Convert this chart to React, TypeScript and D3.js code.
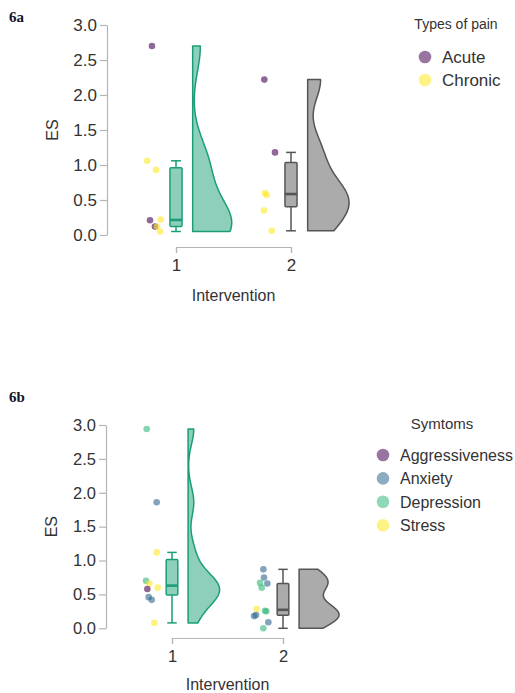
import React, { useEffect, useRef } from 'react';
import * as d3 from 'd3';

const groups = [1, 2];
const yTicks = [0, 0.5, 1, 1.5, 2, 2.5, 3];

// 6a – types of pain
const painTypes = ['Acute', 'Chronic'];
const painColors = ['#440154', '#FDE725'];
const pain1Values = [2.70, 1.06, 0.93, 0.21, 0.22, 0.12, 0.12, 0.05];
const pain1Types = ['Acute', 'Chronic', 'Chronic', 'Acute', 'Chronic', 'Acute', 'Chronic', 'Chronic'];
const pain1Jitter = [-0.209, -0.250, -0.174, -0.226, -0.133, -0.183, -0.165, -0.139];
const pain2Values = [2.22, 1.18, 0.60, 0.57, 0.35, 0.06];
const pain2Types = ['Acute', 'Acute', 'Chronic', 'Chronic', 'Chronic', 'Chronic'];
const pain2Jitter = [-0.232, -0.139, -0.226, -0.211, -0.235, -0.168];

// 6b – symptoms
const symptoms = ['Aggressiveness', 'Anxiety', 'Depression', 'Stress'];
const symptomColors = ['#440154', '#31688E', '#35B779', '#FDE725'];
const sym1Values = [2.94, 1.86, 1.12, 0.70, 0.66, 0.58, 0.60, 0.46, 0.42, 0.08];
const sym1Types = ['Depression', 'Anxiety', 'Stress', 'Depression', 'Stress', 'Aggressiveness', 'Stress', 'Anxiety', 'Anxiety', 'Stress'];
const sym1Jitter = [-0.228, -0.138, -0.138, -0.234, -0.204, -0.222, -0.129, -0.210, -0.183, -0.159];
const sym2Values = [0.87, 0.75, 0.66, 0.67, 0.60, 0.285, 0.26, 0.25, 0.195, 0.18, 0.09, 0.0];
const sym2Types = ['Anxiety', 'Anxiety', 'Anxiety', 'Depression', 'Depression', 'Stress', 'Depression', 'Depression', 'Anxiety', 'Anxiety', 'Anxiety', 'Depression'];
const sym2Jitter = [-0.177, -0.171, -0.141, -0.207, -0.192, -0.237, -0.162, -0.150, -0.243, -0.261, -0.132, -0.177];

const groupStroke = ['#1b9e77', '#555555'];
const groupFill = ['#8dcfba', '#ababab'];

const FONT = '"Liberation Sans", Arial, Helvetica, sans-serif';

// gaussian kde on the data range, bandwidth like R's bw.nrd0
function kde(values: number[], n = 200) {
  const s = values.slice().sort(d3.ascending);
  const sd = d3.deviation(s) || 0;
  const iqr = (d3.quantile(s, 0.75) as number) - (d3.quantile(s, 0.25) as number);
  const bw = 0.9 * Math.min(sd, iqr / 1.34) * Math.pow(s.length, -0.2);
  const [lo, hi] = d3.extent(s) as [number, number];
  return d3.range(n + 1).map(i => {
    const t = lo + ((hi - lo) * i) / n;
    const k = d3.mean(s, v => Math.exp(-0.5 * ((t - v) / bw) ** 2)) as number;
    return [t, k / (bw * Math.sqrt(2 * Math.PI))];
  });
}

function boxStats(values: number[]) {
  const s = values.slice().sort(d3.ascending);
  const q1 = d3.quantile(s, 0.25) as number;
  const med = d3.quantile(s, 0.5) as number;
  const q3 = d3.quantile(s, 0.75) as number;
  const iqr = q3 - q1;
  const lo = d3.min(s.filter(v => v >= q1 - 1.5 * iqr)) as number;
  const hi = d3.max(s.filter(v => v <= q3 + 1.5 * iqr)) as number;
  return { q1, med, q3, lo, hi };
}

function drawPanel(svg, p) {
  const g = svg.append('g');
  const x = d3.scaleLinear().domain([1, 2]).range(p.xRange);
  const y = d3.scaleLinear().domain([0, 3]).range(p.yRange);
  const color = d3.scaleOrdinal<string, string>().domain(p.cats).range(p.colors);

  // panel label
  g.append('text').attr('x', 9).attr('y', p.labelY).text(p.label)
    .attr('font-family', '"Liberation Serif", "Times New Roman", serif')
    .attr('font-weight', 'bold').attr('font-size', 15).attr('fill', '#14142a');

  // y axis
  const ya = g.append('g').attr('transform', `translate(${p.yAxisX},0)`)
    .call(d3.axisLeft(y).tickValues(yTicks).tickFormat(d3.format('.1f')).tickSize(7).tickSizeOuter(0).tickPadding(3));
  // x axis bracket
  const xa = g.append('g').attr('transform', `translate(0,${p.xAxisY})`)
    .call(d3.axisBottom(x).tickValues(groups).tickFormat(d3.format('d')).tickSize(6).tickSizeOuter(6).tickPadding(6));
  [ya, xa].forEach(a => {
    a.select('.domain').attr('stroke', '#b5b5b5').attr('stroke-width', 1.2);
    a.selectAll('.tick line').attr('stroke', '#b5b5b5').attr('stroke-width', 1.2);
    a.selectAll('text').attr('font-family', FONT).attr('font-size', p.tickSize).attr('fill', '#333');
  });

  g.append('text').attr('x', (x(1) + x(2)) / 2).attr('y', p.xTitleY).attr('text-anchor', 'middle')
    .attr('font-family', FONT).attr('font-size', 16).attr('fill', '#333').text('Intervention');
  g.append('text').attr('transform', `translate(${p.yTitleX},${(y(0) + y(3)) / 2}) rotate(-90)`)
    .attr('text-anchor', 'middle').attr('dy', '0.35em')
    .attr('font-family', FONT).attr('font-size', 16).attr('fill', '#333').text('ES');

  // shared width scale for violins (equal area)
  const dens = p.series.map(s => kde(s.values));
  const maxD = d3.max(dens.flat(), d => d[1]) as number;
  const w = d3.scaleLinear().domain([0, maxD]).range([0, 0.36]);

  p.series.forEach((s, i) => {
    const gx = groups[i];
    // jittered points
    g.append('g').selectAll('circle').data(s.values).join('circle')
      .attr('cx', (_, j) => x(gx + s.jitter[j]))
      .attr('cy', v => y(v))
      .attr('r', 3.3)
      .attr('fill', (_, j) => color(s.types[j]))
      .attr('fill-opacity', 0.6);

    // box
    const b = boxStats(s.values);
    const bw = 0.105, cw = 0.085;
    const bg = g.append('g').attr('stroke', groupStroke[i]).attr('stroke-width', 1.5);
    bg.append('line').attr('x1', x(gx)).attr('x2', x(gx)).attr('y1', y(b.q3)).attr('y2', y(b.hi));
    bg.append('line').attr('x1', x(gx)).attr('x2', x(gx)).attr('y1', y(b.q1)).attr('y2', y(b.lo));
    [b.hi, b.lo].forEach(v => bg.append('line')
      .attr('x1', x(gx - cw / 2)).attr('x2', x(gx + cw / 2)).attr('y1', y(v)).attr('y2', y(v)));
    bg.append('rect').attr('x', x(gx - bw / 2)).attr('width', x(gx + bw / 2) - x(gx - bw / 2))
      .attr('y', y(b.q3)).attr('height', y(b.q1) - y(b.q3))
      .attr('fill', groupFill[i]).attr('rx', 1);
    bg.append('line').attr('x1', x(gx - bw / 2)).attr('x2', x(gx + bw / 2))
      .attr('y1', y(b.med)).attr('y2', y(b.med)).attr('stroke-width', 2.6);

    // half violin
    const off = 0.145;
    const area = d3.area<number[]>()
      .y(d => y(d[0]))
      .x0(() => x(gx + off))
      .x1(d => x(gx + off + w(d[1])))
      .curve(d3.curveBasis);
    g.append('path').attr('d', area(dens[i]))
      .attr('fill', groupFill[i]).attr('stroke', groupStroke[i])
      .attr('stroke-width', 1.5).attr('stroke-linejoin', 'round');
  });

  // legend
  const lg = g.append('g');
  lg.append('text').attr('x', p.legend.titleX).attr('y', p.legend.titleY).attr('text-anchor', 'middle')
    .attr('font-family', FONT).attr('font-size', p.legend.titleSize).attr('fill', '#333').text(p.legendTitle);
  p.cats.forEach((c, k) => {
    const cy = p.legend.y0 + k * p.legend.step;
    lg.append('circle').attr('cx', p.legend.cx).attr('cy', cy).attr('r', 6.3)
      .attr('fill', color(c)).attr('fill-opacity', 0.55);
    lg.append('text').attr('x', p.legend.cx + 17).attr('y', cy).attr('dy', '0.36em')
      .attr('font-family', FONT).attr('font-size', p.legend.size).attr('fill', '#333').text(c);
  });
}

export default function App() {
  const svgRef = useRef<SVGSVGElement>(null);

  useEffect(() => {
    const svg = d3.select(svgRef.current);
    svg.selectAll('*').remove();

    drawPanel(svg, {
      label: '6a', labelY: 22,
      xRange: [176, 291], yRange: [235, 25],
      yAxisX: 107, xAxisY: 247, xTitleY: 301, yTitleX: 52, tickSize: 17,
      cats: painTypes, colors: painColors, legendTitle: 'Types of pain',
      legend: { titleX: 456, titleY: 29, titleSize: 14, cx: 425, y0: 57, step: 23, size: 17 },
      series: [
        { values: pain1Values, types: pain1Types, jitter: pain1Jitter },
        { values: pain2Values, types: pain2Types, jitter: pain2Jitter },
      ],
    });

    drawPanel(svg, {
      label: '6b', labelY: 402,
      xRange: [172, 283], yRange: [628.3, 425],
      yAxisX: 106, xAxisY: 638, xTitleY: 690, yTitleX: 51.5, tickSize: 16.5,
      cats: symptoms, colors: symptomColors, legendTitle: 'Symtoms',
      legend: { titleX: 442, titleY: 429, titleSize: 15, cx: 383, y0: 455, step: 23.4, size: 16 },
      series: [
        { values: sym1Values, types: sym1Types, jitter: sym1Jitter },
        { values: sym2Values, types: sym2Types, jitter: sym2Jitter },
      ],
    });
  }, []);

  return (
    <svg ref={svgRef} width={515} height={693}
      style={{ position: 'absolute', left: 0, top: 0, background: '#fff' }} />
  );
}
